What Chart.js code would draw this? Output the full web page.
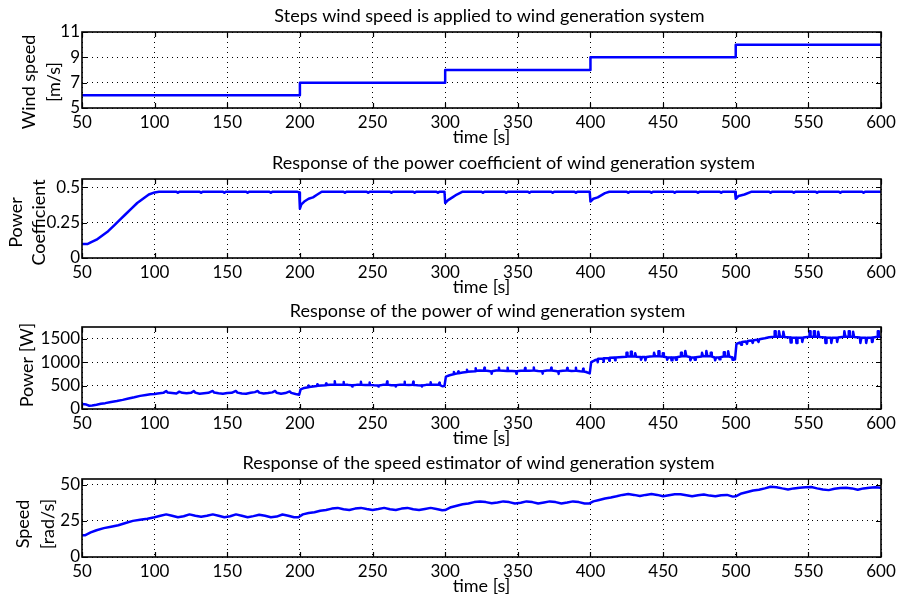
<!DOCTYPE html>
<html><head><meta charset="utf-8">
<script src="https://cdn.jsdelivr.net/npm/chart.js@4/dist/chart.umd.min.js"></script>
<style>
html,body{margin:0;padding:0;background:#fff;}
body{width:904px;height:604px;position:relative;overflow:hidden;}
.panel{position:absolute;left:0;width:904px;}
</style></head><body>
<div class="panel" style="top:0;height:150px"><canvas id="c1"></canvas></div>
<div class="panel" style="top:147px;height:153px"><canvas id="c2"></canvas></div>
<div class="panel" style="top:295px;height:156px"><canvas id="c3"></canvas></div>
<div class="panel" style="top:447px;height:152px"><canvas id="c4"></canvas></div>
<script>
// shared time axis
const timeTicks = [50, 100, 150, 200, 250, 300, 350, 400, 450, 500, 550, 600];

// wind speed steps [m/s]
const windTime  = [50, 200, 300, 400, 500, 600];
const windSpeed = [6, 7, 8, 9, 10, 10];
const windTicks = [5, 7, 9, 11];

// power coefficient
const cpTime = [50,54,56,60,64,68,72,76,80,84,88,92,96,100,103,115,116,117,131,132,133,147,148,149,163,164,165,179,180,181,198,199.5,200,201,203,206,209,212,215,230,231,232,246,247,248,262,263,264,278,279,280,294,295,296,299.5,300,302,305,308,312,325,326,327,341,342,343,357,358,359,373,374,375,389,390,391,399.5,400,402,405,410,413,425,426,427,441,442,443,457,458,459,473,474,475,489,490,491,499.5,500,502,506,511,523,524,525,539,540,541,555,556,557,571,572,573,587,588,589,600];
const cpValue = [0.10,0.10,0.11,0.13,0.16,0.19,0.23,0.27,0.31,0.35,0.39,0.42,0.45,0.465,0.47,0.47,0.462,0.47,0.47,0.462,0.47,0.47,0.462,0.47,0.47,0.462,0.47,0.47,0.462,0.47,0.47,0.465,0.35,0.38,0.40,0.42,0.43,0.45,0.47,0.47,0.462,0.47,0.47,0.462,0.47,0.47,0.462,0.47,0.47,0.462,0.47,0.47,0.462,0.47,0.47,0.39,0.41,0.43,0.45,0.47,0.47,0.462,0.47,0.47,0.462,0.47,0.47,0.462,0.47,0.47,0.462,0.47,0.47,0.462,0.47,0.47,0.40,0.42,0.43,0.46,0.47,0.47,0.462,0.47,0.47,0.462,0.47,0.47,0.462,0.47,0.47,0.462,0.47,0.47,0.462,0.47,0.47,0.42,0.44,0.45,0.47,0.47,0.462,0.47,0.47,0.462,0.47,0.47,0.462,0.47,0.47,0.462,0.47,0.47,0.462,0.47,0.47];
const cpTicks = [0, 0.25, 0.5];
const cpTickLabels = ['0', '0.25', '0.5'];

// generated power [W], as [time, power] samples
const powerSamples = [
  [50,105],[53,95],[55,70],[57,75],[60,90],[63,110],[66,125],[70,150],[74,170],[78,195],[82,225],[86,250],[90,280],[94,300],[97,315],[100,320],
  [102,330],[106,345],[108,385],[109,350],[112,340],[115,330],[117,370],[119,345],[122,335],[125,345],[127,385],[128,350],[131,325],[134,335],[137,345],[140,385],[141,350],[144,335],[147,325],[150,340],[153,345],[156,385],[157,350],[160,330],[163,325],[166,345],[169,360],[171,385],[172,350],[175,330],[178,340],[181,355],[183,385],[184,345],[187,325],[190,340],[193,375],[194,345],[197,320],[199.5,305],
  [200.5,420],[203,450],[205.7,465],[206,500],[206.3,470],[209,480],[211.7,490],[212,525],[212.3,495],[215,500],[217.7,505],[218,545],[218.3,510],[221,515],[223.7,520],[224,590],[224.3,525],[227,520],[229.7,515],[230,575],[230.3,520],[233,515],[235.7,505],[236,480],[236.3,505],[239,515],[241.7,520],[242,580],[242.3,520],[245,510],[247.7,510],[248,565],[248.3,515],[251,505],[253.7,500],[254,480],[254.3,500],[257,515],[259.7,520],[260,585],[260.3,520],[263,505],[265.7,505],[266,480],[266.3,505],[269,520],[271.7,520],[272,580],[272.3,520],[275,510],[277.7,515],[278,580],[278.3,515],[281,505],[283.7,500],[284,480],[284.3,500],[287,515],[289.7,520],[290,570],[290.3,520],[293,515],[295.7,515],[296,560],[296.3,515],[298,485],[299.5,490],
  [300.5,690],[303,720],[305.7,740],[306,790],[306.3,745],[308.7,760],[309,800],[309.3,765],[312,780],[314.7,790],[315,840],[315.3,795],[318,800],[320.7,805],[321,870],[321.3,815],[324,820],[326.7,815],[327,880],[327.3,820],[330,810],[331.7,800],[332,750],[332.3,805],[335,820],[336.7,820],[337,880],[337.3,820],[340,815],[342.7,810],[343,880],[343.3,815],[346,810],[348.7,805],[349,750],[349.3,805],[352,815],[354.7,815],[355,875],[355.3,820],[358,815],[360.7,820],[361,885],[361.3,820],[364,810],[366.7,805],[367,755],[367.3,805],[370,820],[372.7,820],[373,880],[373.3,820],[376,810],[377.7,800],[378,750],[378.3,805],[381,815],[383.7,820],[384,875],[384.3,820],[387,810],[389.7,815],[390,880],[390.3,815],[393,805],[394.7,800],[395,860],[395.3,800],[397,790],[399.5,760],
  [400.5,1000],[403,1040],[404.7,1060],[405,1000],[405.3,1070],[408.7,1080],[409,1010],[409.3,1085],[412.7,1090],[413,1030],[413.3,1095],[416.7,1100],[417,1040],[417.3,1100],[422,1110],[424.5,1115],[424.8,1200],[425.2,1200],[425.5,1120],[427.5,1120],[427.8,1220],[428.2,1220],[428.5,1120],[430.5,1120],[430.8,1190],[431.2,1190],[431.5,1115],[434.5,1110],[434.8,1050],[435.2,1050],[435.5,1110],[437.5,1110],[437.8,1040],[438.2,1040],[438.5,1110],[441,1120],[443.5,1125],[443.8,1200],[444.2,1200],[444.5,1125],[446.5,1125],[446.8,1230],[447.2,1230],[447.5,1125],[449.5,1120],[449.8,1190],[450.2,1190],[450.5,1115],[452.5,1105],[452.8,1050],[453.2,1050],[453.5,1100],[455.5,1100],[455.8,1040],[456.2,1040],[456.5,1100],[458.5,1100],[458.8,1050],[459.2,1050],[459.5,1105],[462,1120],[462.3,1200],[462.7,1200],[463,1125],[465,1125],[465.3,1240],[465.7,1240],[466,1125],[468.5,1110],[468.8,1040],[469.2,1040],[469.5,1100],[471.5,1100],[471.8,1050],[472.2,1050],[472.5,1105],[476.5,1120],[476.8,1200],[477.2,1200],[477.5,1125],[479.5,1125],[479.8,1240],[480.2,1240],[480.5,1125],[482.5,1125],[482.8,1200],[483.2,1200],[483.5,1120],[485.5,1100],[485.8,1040],[486.2,1040],[486.5,1100],[488.5,1100],[488.8,1060],[489.2,1060],[489.5,1105],[491.5,1120],[491.8,1210],[492.2,1210],[492.5,1120],[494.5,1120],[494.8,1230],[495.2,1230],[495.5,1120],[497.5,1100],[497.8,1050],[498.2,1050],[498.5,1080],[499.5,1060],
  [500.5,1390],[503,1420],[503.7,1370],[504.3,1430],[507,1440],[507.7,1390],[508.3,1450],[511,1460],[511.7,1410],[512.3,1470],[515,1480],[515.7,1430],[516.3,1490],[520,1510],[523,1530],[526.5,1540],[526.8,1660],[527.2,1660],[527.5,1540],[529.5,1540],[529.8,1660],[530.2,1660],[530.5,1540],[532.5,1540],[532.8,1650],[533.2,1650],[533.5,1535],[537.5,1525],[537.8,1420],[538.2,1420],[538.5,1520],[541.5,1520],[541.8,1410],[542.2,1410],[542.5,1520],[545.5,1520],[545.8,1430],[546.2,1430],[546.5,1525],[550.5,1540],[550.8,1660],[551.2,1660],[551.5,1540],[553.5,1540],[553.8,1660],[554.2,1660],[554.5,1540],[556.5,1540],[556.8,1650],[557.2,1650],[557.5,1535],[561.5,1525],[561.8,1410],[562.2,1410],[562.5,1520],[565.5,1520],[565.8,1410],[566.2,1410],[566.5,1520],[569.5,1520],[569.8,1430],[570.2,1430],[570.5,1525],[574.5,1540],[574.8,1660],[575.2,1660],[575.5,1540],[577.5,1540],[577.8,1660],[578.2,1660],[578.5,1540],[580.5,1540],[580.8,1650],[581.2,1650],[581.5,1535],[585.5,1525],[585.8,1410],[586.2,1410],[586.5,1520],[589.5,1520],[589.8,1410],[590.2,1410],[590.5,1520],[593.5,1520],[593.8,1430],[594.2,1430],[594.5,1525],[597.5,1540],[597.8,1660],[598.2,1660],[598.5,1540],[600,1535]
];
const powerTime = powerSamples.map(p => p[0]);
const powerValue = powerSamples.map(p => p[1]);
const powerTicks = [0, 500, 1000, 1500];

// estimated rotor speed [rad/s]
const speedTime = [50,52,56,60,65,70,75,80,85,90,95,100,104,108,112,116,120,124,128,132,136,140,144,148,152,156,160,164,168,172,176,180,184,188,192,196,199,202,206,210,214,218,222,226,230,234,238,242,246,250,254,258,262,266,270,274,278,282,286,290,294,298,300,304,308,312,316,320,324,328,332,336,340,344,348,352,356,360,364,368,372,376,380,384,388,392,396,399,402,406,410,414,418,422,426,430,434,438,442,446,450,454,458,462,466,470,474,478,482,486,490,494,498,500,504,508,512,516,520,524,528,532,536,540,544,548,552,556,560,564,568,572,576,580,584,588,592,596,600];
const speedValue = [15,15,17,18.5,20,21,22,23.5,25,25.8,26.5,27.5,28.5,29.5,28.5,27.5,28.2,29.5,28.5,27.8,28.5,29.5,28.5,27.5,28.2,29.5,28.5,27.5,28.3,29.3,28.5,27.5,28,29.4,28.6,27.5,27.5,29.5,30.5,31,32,32.5,33.5,34,33,32.5,33.5,34,33.2,32.5,33.2,34,33,32.5,33.5,34,33,32.5,33.3,34,33.2,32.3,32.5,34.5,35.5,36.5,37,38,38.5,38,37.2,37.8,38.5,38,37,37.5,38.5,38,37,37.8,38.5,38,37,37.7,38.5,38,37,37,38.5,39.5,40.5,41.2,42,43,43.6,43,42.2,43,43.6,43,42,42.8,43.4,43.5,42.8,42,42.8,43.3,42.5,42,42.8,43,41.8,42,44,45,46,46.5,47.5,48.6,48.3,47.5,46.8,47.5,48,48.3,48.4,47.5,46.8,46.3,47.2,47.8,48,47.5,46.5,47.5,48,48.3,48];
const speedTicks = [0, 25, 50];

const FONT = 'Lato, "Open Sans", sans-serif';
const LINE_BLUE = '#0000ff';

// closed axes box with inward tick marks on all four sides,
// plus the rotated (possibly two-line) y-axis caption
const framePlugin = {
  id: 'frame',
  afterLayout(chart, args, opts) {
    // nudge the title horizontally
    const tb = chart.titleBlock;
    if (tb && opts.titleShift) { tb.left += opts.titleShift; tb.right += opts.titleShift; }
  },
  afterDatasetsDraw(chart) {
    const {ctx, chartArea: a, scales: {x, y}} = chart;
    ctx.save();
    ctx.strokeStyle = '#000';
    ctx.lineWidth = 1.6;
    ctx.strokeRect(a.left, a.top, a.right - a.left, a.bottom - a.top);
    ctx.lineWidth = 1.2;
    ctx.beginPath();
    const len = 5;
    x.ticks.forEach(t => {
      const px = Math.round(x.getPixelForValue(t.value)) + 0.5;
      ctx.moveTo(px, a.bottom); ctx.lineTo(px, a.bottom - len);
      ctx.moveTo(px, a.top); ctx.lineTo(px, a.top + len);
    });
    y.ticks.forEach(t => {
      const py = Math.round(y.getPixelForValue(t.value)) + 0.5;
      ctx.moveTo(a.left, py); ctx.lineTo(a.left + len, py);
      ctx.moveTo(a.right, py); ctx.lineTo(a.right - len, py);
    });
    ctx.stroke();
    ctx.restore();
  },
  afterDraw(chart, args, opts) {
    if (!opts.yCaption) return;
    const {ctx, chartArea: a} = chart;
    const cy = (a.top + a.bottom) / 2 + (opts.yShift || 0);
    ctx.save();
    ctx.fillStyle = '#000';
    ctx.font = '18px ' + FONT;
    ctx.textAlign = 'center';
    ctx.textBaseline = 'middle';
    opts.yCaption.forEach((line, i) => {
      ctx.save();
      ctx.translate(opts.yCaptionX[i], cy);
      ctx.rotate(-Math.PI / 2);
      ctx.fillText(line, 0, 0);
      ctx.restore();
    });
    ctx.restore();
  }
};

function makePanel(id, cfg) {
  const points = cfg.xs.map((t, i) => ({x: t, y: cfg.ys[i]}));
  return new Chart(document.getElementById(id), {
    type: 'line',
    data: {
      datasets: [{
        data: points,
        borderColor: LINE_BLUE,
        borderWidth: 2.5,
        borderJoinStyle: 'round',
        borderCapStyle: 'round',
        pointRadius: 0,
        tension: 0,
        stepped: cfg.stepped || false,
        fill: false
      }]
    },
    options: {
      responsive: true,
      maintainAspectRatio: false,
      animation: false,
      events: [],
      layout: {padding: {left: 0, right: 23, top: 0, bottom: 0}},
      plugins: {
        legend: {display: false},
        tooltip: {enabled: false},
        title: {
          display: true,
          fullSize: false,
          text: cfg.title,
          color: '#000',
          font: {family: FONT, size: 18, weight: 'normal', lineHeight: 1.2},
          padding: {top: 5, bottom: 5.4}
        },
        frame: {
          titleShift: cfg.titleShift,
          yCaption: cfg.ytitle,
          yCaptionX: cfg.ytitleX,
          yShift: cfg.yShift
        }
      },
      scales: {
        x: {
          type: 'linear',
          min: 50, max: 600,
          afterBuildTicks: s => { s.ticks = timeTicks.map(v => ({value: v})); },
          afterFit: s => { s.height = 42; },
          ticks: {
            color: '#000', autoSkip: false, maxRotation: 0, padding: 4,
            font: {family: FONT, size: 17},
            callback: v => String(v)
          },
          grid: {color: '#000', lineWidth: 1, drawTicks: false},
          border: {display: false, dash: [1, 4]},
          title: {
            display: true, text: 'time [s]', color: '#000',
            font: {family: FONT, size: 18, lineHeight: 1.2},
            padding: {top: 0, bottom: 2}
          }
        },
        y: {
          type: 'linear',
          min: cfg.ymin, max: cfg.ymax,
          afterBuildTicks: s => { s.ticks = cfg.yticks.map(v => ({value: v})); },
          afterFit: s => { s.width = 82; },
          ticks: {
            color: '#000', autoSkip: false, padding: 2,
            font: {family: FONT, size: 17},
            callback: (v, i) => cfg.ylabels ? cfg.ylabels[i] : String(v)
          },
          grid: {color: '#000', lineWidth: 1, drawTicks: false},
          border: {display: false, dash: [1, 4]},
          title: {display: false}
        }
      }
    },
    plugins: [framePlugin]
  });
}

makePanel('c1', {
  title: 'Steps wind speed is applied to wind generation system', titleShift: 8,
  xs: windTime, ys: windSpeed, stepped: true,
  ymin: 5, ymax: 11, yticks: windTicks,
  ytitle: ['Wind speed', '[m/s]'], ytitleX: [29, 54], yShift: 12
});
makePanel('c2', {
  title: 'Response of the power coefficient of wind generation system', titleShift: 32,
  xs: cpTime, ys: cpValue,
  ymin: 0, ymax: 0.56, yticks: cpTicks, ylabels: cpTickLabels,
  ytitle: ['Power', 'Coefficient'], ytitleX: [16, 39.5], yShift: 4
});
makePanel('c3', {
  title: 'Response of the power of wind generation system', titleShift: 6,
  xs: powerTime, ys: powerValue,
  ymin: 0, ymax: 1750, yticks: powerTicks,
  ytitle: ['Power [W]'], ytitleX: [27], yShift: -3
});
makePanel('c4', {
  title: 'Response of the speed estimator of wind generation system', titleShift: -3,
  xs: speedTime, ys: speedValue,
  ymin: 0, ymax: 54, yticks: speedTicks,
  ytitle: ['Speed', '[rad/s]'], ytitleX: [23, 48], yShift: 6
});
</script>
</body></html>
